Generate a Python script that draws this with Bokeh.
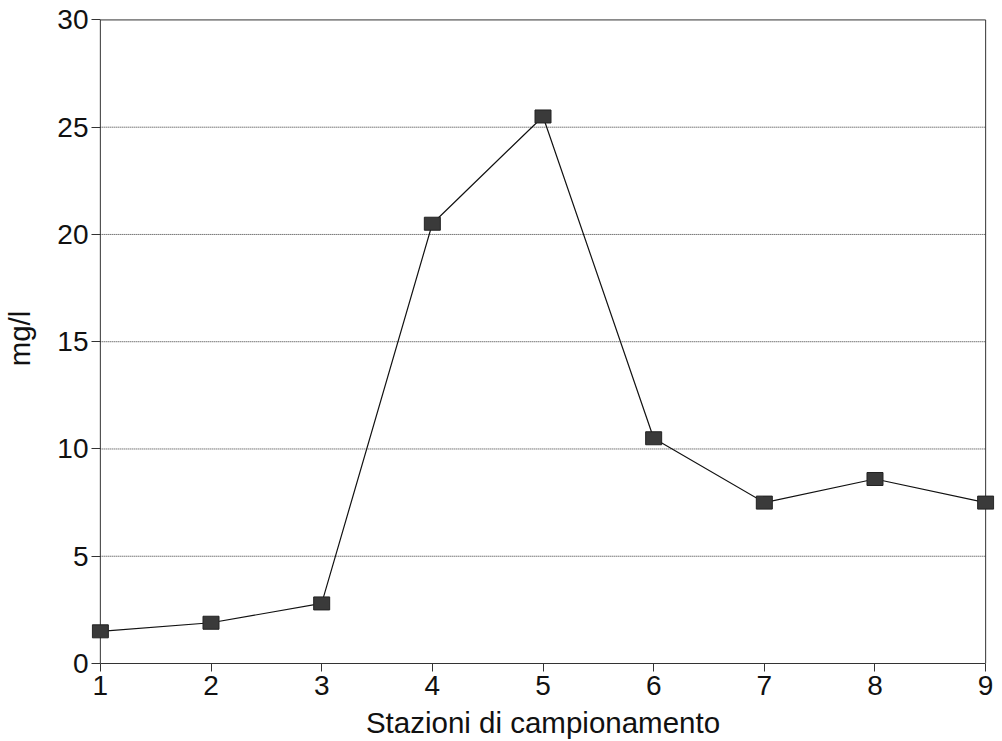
from bokeh.plotting import figure
from bokeh.models import Range1d, FixedTicker
from bokeh.embed import file_html
from bokeh.resources import INLINE

stations = [1, 2, 3, 4, 5, 6, 7, 8, 9]
values = [1.5, 1.9, 2.8, 20.5, 25.5, 10.5, 7.5, 8.6, 7.5]
y_ticks = [0, 5, 10, 15, 20, 25, 30]
x_label = "Stazioni di campionamento"
y_label = "mg/l"

FONT = "Liberation Sans"
pad = 0.08
x0, x1 = stations[0], stations[-1]
y0, y1 = y_ticks[0], y_ticks[-1]

p = figure(
    frame_width=903, frame_height=650,
    min_border_left=91, min_border_right=8, min_border_top=13, min_border_bottom=78,
    x_range=Range1d(x0 - pad, x1 + pad), y_range=Range1d(y0, y1 + 0.3),
    output_backend="svg", toolbar_location=None,
)
p.outline_line_color = None
p.background_fill_color = "white"
p.border_fill_color = "white"
p.xgrid.visible = False
p.ygrid.visible = False

# axes
p.xaxis.ticker = FixedTicker(ticks=stations)
p.xaxis.bounds = (x0, x1)
p.yaxis.ticker = FixedTicker(ticks=y_ticks)
p.yaxis.bounds = (y0, y1)
for ax in (p.xaxis[0], p.yaxis[0]):
    ax.axis_line_color = "#333333"
    ax.axis_line_width = 1
    ax.major_tick_line_color = "#333333"
    ax.minor_tick_line_color = None
    ax.major_label_text_font = FONT
    ax.major_label_text_font_size = "28px"
    ax.major_label_text_color = "#111111"
    ax.axis_label_text_font = FONT
    ax.axis_label_text_font_size = "29.5px"
    ax.axis_label_text_font_style = "normal"
    ax.axis_label_text_color = "#111111"
p.xaxis.major_tick_in = 0
p.xaxis.major_tick_out = 8
# y axis sits at the frame edge, a bit left of station 1: ticks reach inward to x0
p.yaxis.axis_line_color = None
p.yaxis.major_tick_in = 9
p.yaxis.major_tick_out = 0
p.xaxis.axis_label = x_label
p.yaxis.axis_label = y_label
p.xaxis.major_label_standoff = 4
p.yaxis.major_label_standoff = 3
p.xaxis.axis_label_standoff = 8
p.yaxis.axis_label_standoff = 18

# dotted grid lines between the axes
grid_y = y_ticks[1:-1]
p.segment(x0=[x0] * len(grid_y), x1=[x1] * len(grid_y), y0=grid_y, y1=grid_y,
          line_color="#333333", line_width=1, line_dash="1 1")

# frame: left axis line, top and right
p.segment(x0=[x0, x0, x1], x1=[x0, x1, x1], y0=[y0, y1, y0], y1=[y1, y1, y1],
          line_color="#333333", line_width=1)

# data
p.line(stations, values, line_color="#111111", line_width=1.2)
p.rect(stations, values, width=16, height=13, width_units="screen", height_units="screen",
       fill_color="#3a3a3a", line_color="#222222", line_width=1)

open("out.html", "w").write(file_html(p, INLINE))
